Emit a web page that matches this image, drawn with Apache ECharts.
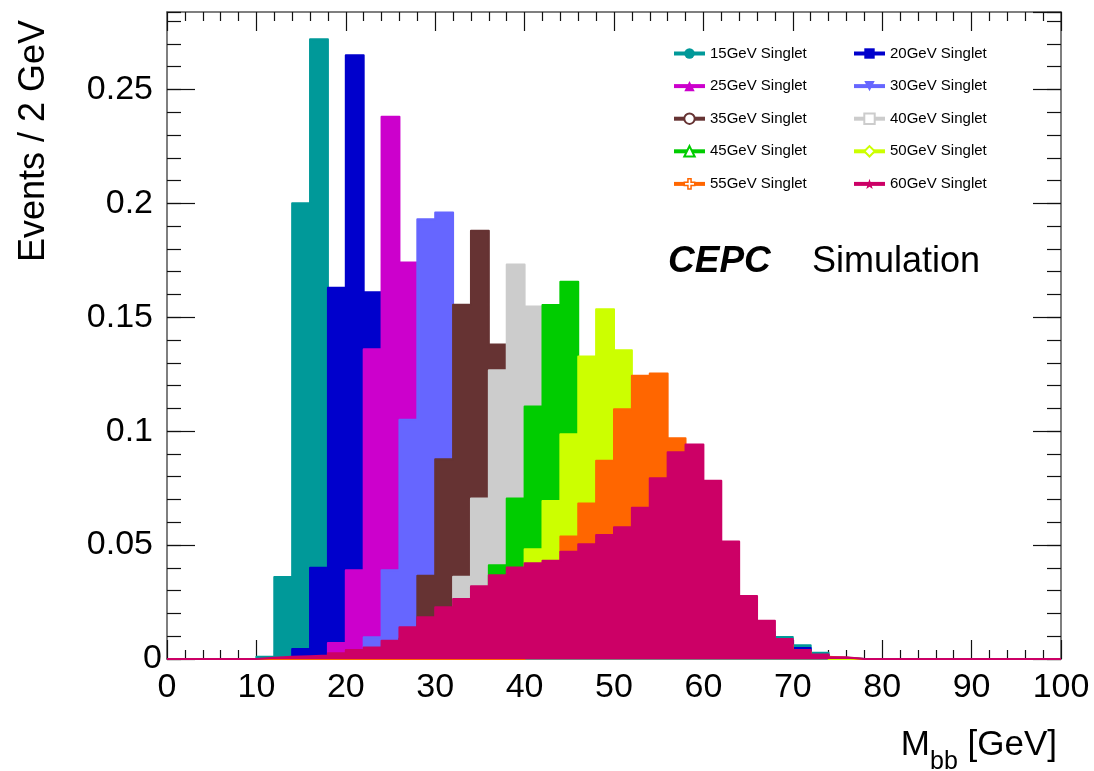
<!DOCTYPE html>
<html><head><meta charset="utf-8">
<script src="https://cdn.jsdelivr.net/npm/echarts@6/dist/echarts.min.js"></script>
<style>html,body{margin:0;padding:0;background:#fff}#c{width:1094px;height:771px}</style>
</head><body><div id="c"></div>
<script>
const FONT = "'Liberation Sans', Arial, Helvetica, sans-serif";
const binWidth = 2;
const nBins = 50;
const binEdges = Array.from({length: nBins}, (_, i) => i * binWidth);

const seriesNames = ['15GeV Singlet','20GeV Singlet','25GeV Singlet','30GeV Singlet','35GeV Singlet',
                     '40GeV Singlet','45GeV Singlet','50GeV Singlet','55GeV Singlet','60GeV Singlet'];
const seriesColors = ['#009999','#0000cc','#cc00cc','#6666ff','#663333',
                      '#cccccc','#00cc00','#ccff00','#ff6600','#cc0066'];
const legendSymbols = ['circle','rect','triangle','path://M0,0 L10,0 L5,9 Z','emptyCircle',
                       'emptyRect','emptyTriangle','emptyDiamond',
                       'path://M3.5,0 L6.5,0 L6.5,3.5 L10,3.5 L10,6.5 L6.5,6.5 L6.5,10 L3.5,10 L3.5,6.5 L0,6.5 L0,3.5 L3.5,3.5 Z',
                       'path://M5,0 L6.2,3.8 L10,3.8 L7,6.2 L8.1,10 L5,7.7 L1.9,10 L3,6.2 L0,3.8 L3.8,3.8 Z'];

const s15 = [0,0,0,0,0, 0.001,0.036,0.200,0.272,0.105, 0.035,0.015,0.008,0.006,0.005, 0.005,0.005,0.006,0.006,0.006, 0.007,0.007,0.007,0.008,0.008, 0.008,0.009,0.009,0.010,0.010, 0.011,0.011,0.012,0.012,0.0097, 0.0060,0.0027,0.0005,0,0, 0,0,0,0,0, 0,0,0,0,0];
const s20 = [0,0,0,0,0, 0,0,0.0044,0.040,0.163, 0.265,0.161,0.065,0.025,0.012, 0.008,0.007,0.007,0.007,0.007, 0.007,0.007,0.007,0.007,0.008, 0.008,0.008,0.008,0.008,0.008, 0.008,0.008,0.008,0.008,0.008, 0.0048,0.0018,0.0004,0,0, 0,0,0,0,0, 0,0,0,0,0];
const s25 = [0,0,0,0,0, 0,0,0,0,0.007, 0.039,0.136,0.238,0.174,0.075, 0.028,0.013,0.008,0.008,0.008, 0.008,0.008,0.008,0.008,0.008, 0.008,0.008,0.008,0.008,0.008, 0.008,0.008,0.008,0.008,0.006, 0.003,0.001,0,0,0, 0,0,0,0,0, 0,0,0,0,0];
const s30 = [0,0,0,0,0, 0,0,0,0,0, 0,0.0095,0.039,0.105,0.193, 0.196,0.100,0.040,0.016,0.009, 0.009,0.009,0.009,0.009,0.009, 0.009,0.009,0.009,0.009,0.009, 0.009,0.009,0.009,0.009,0.006, 0.003,0.001,0,0,0, 0,0,0,0,0, 0,0,0,0,0];
const s35 = [0,0,0,0,0, 0,0,0,0,0, 0,0,0.003,0.009,0.0365, 0.0877,0.1555,0.188,0.138,0.060, 0.022,0.011,0.008,0.008,0.008, 0.008,0.008,0.008,0.008,0.008, 0.008,0.008,0.008,0.008,0.006, 0.003,0.001,0,0,0, 0,0,0,0,0, 0,0,0,0,0];
const s40 = [0,0,0,0,0, 0,0,0,0,0, 0,0,0,0,0.004, 0.012,0.0361,0.0705,0.1268,0.1732, 0.1547,0.070,0.028,0.013,0.008, 0.008,0.008,0.008,0.008,0.008, 0.008,0.008,0.008,0.008,0.006, 0.003,0.001,0,0,0, 0,0,0,0,0, 0,0,0,0,0];
const s45 = [0,0,0,0,0, 0,0,0,0,0, 0,0,0,0,0, 0,0.004,0.012,0.0412,0.0705, 0.1108,0.1554,0.1656,0.080,0.032, 0.014,0.008,0.008,0.008,0.008, 0.008,0.008,0.008,0.008,0.006, 0.003,0.001,0,0,0, 0,0,0,0,0, 0,0,0,0,0];
const s50 = [0,0,0,0,0, 0,0,0,0,0, 0,0,0,0,0, 0,0,0,0.006,0.018, 0.0482,0.0693,0.0987,0.1328,0.1535, 0.1355,0.060,0.024,0.011,0.008, 0.008,0.008,0.008,0.008,0.006, 0.003,0.001,0,0,0, 0,0,0,0,0, 0,0,0,0,0];
const s55 = [0,0,0,0,0, 0,0,0,0,0, 0,0,0,0,0, 0,0,0,0,0, 0.008,0.022,0.0538,0.0683,0.087, 0.1096,0.1243,0.1253,0.0969,0.048, 0.020,0.010,0.008,0.007,0.005, 0.003,0.001,0.0005,0,0, 0,0,0,0,0, 0,0,0,0,0];
const s60 = [0,0,0,0,0, 0.0005,0.001,0.0012,0.0015,0.0025, 0.004,0.0051,0.008,0.0139,0.0183, 0.0227,0.0263,0.0319,0.0368,0.0402, 0.042,0.0431,0.0471,0.0504,0.0544, 0.0578,0.0664,0.0793,0.0907,0.0942, 0.0782,0.0516,0.0276,0.0168,0.0088, 0.0040,0.0020,0.0008,0,0, 0,0,0,0,0, 0,0,0,0,0];
const seriesValues = [s15, s20, s25, s30, s35, s40, s45, s50, s55, s60];

const xTicks = {min: 0, max: 100, interval: 10};
const yTicks = {min: 0, max: 0.284, major: 0.05, minor: 0.01};

function toSteps(vals) {
  const pts = vals.map((v, i) => [binEdges[i], v]);
  pts.push([binEdges[nBins - 1] + binWidth, vals[nBins - 1]]);
  return pts;
}

const chart = echarts.init(document.getElementById('c'), null, {renderer: 'canvas'});

const frameColor = '#555';
const tickColor = '#111';

function xAxisDef(pos, labels) {
  return {
    type: 'value', position: pos, min: xTicks.min, max: xTicks.max, interval: xTicks.interval,
    axisLine: {show: true, onZero: false, lineStyle: {color: frameColor, width: 1.5}},
    axisTick: {show: true, inside: true, length: 19, lineStyle: {color: tickColor, width: 1.2}},
    minorTick: {show: true, splitNumber: 5, length: 9, lineStyle: {color: tickColor, width: 1.2}},
    splitLine: {show: false}, minorSplitLine: {show: false},
    axisLabel: {show: labels, fontSize: 34, color: '#000', margin: 12, fontFamily: FONT}
  };
}
function yAxisDef(pos, interval, len, labels, line) {
  return {
    type: 'value', position: pos, min: yTicks.min, max: yTicks.max, interval: interval,
    axisLine: {show: line, onZero: false, lineStyle: {color: frameColor, width: 1.5}},
    axisTick: {show: true, inside: true, length: len, lineStyle: {color: tickColor, width: 1.2}},
    splitLine: {show: false},
    axisLabel: {show: labels, showMaxLabel: false, fontSize: 34, color: '#000', margin: 14, fontFamily: FONT,
      formatter: v => (v === 0 ? '{z|0}' : String(v)),
      rich: {z: {fontSize: 34, color: '#000', fontFamily: FONT, padding: [0, -9, 0, 0]}}}
  };
}

const legendCols = [[0, 2, 4, 6, 8], [1, 3, 5, 7, 9]];
const legendLeft = [672, 852];
function legendItem(i) {
  if (i === 8) return {name: seriesNames[i], itemStyle: {color: '#fff', borderColor: seriesColors[i], borderWidth: 1.5}};
  return {name: seriesNames[i]};
}

const option = {
  animation: false,
  backgroundColor: '#fff',
  textStyle: {fontFamily: FONT},
  grid: {left: 167, right: 33, top: 12, bottom: 112, containLabel: false, outerBoundsMode: 'none'},
  xAxis: [xAxisDef('bottom', true), xAxisDef('top', false)],
  yAxis: [
    yAxisDef('left', yTicks.major, 28, true, true),
    yAxisDef('left', yTicks.minor, 14, false, false),
    yAxisDef('right', yTicks.major, 28, false, true),
    yAxisDef('right', yTicks.minor, 14, false, false)
  ],
  legend: legendCols.map((col, k) => ({
    orient: 'vertical', left: legendLeft[k], top: 46, padding: 0,
    itemWidth: 31, itemHeight: 13, itemGap: 17.6,
    selectedMode: false, z: 30,
    lineStyle: {width: 4},
    textStyle: {fontSize: 15, color: '#000', fontFamily: FONT},
    data: col.map(legendItem)
  })),
  series: seriesValues.map((vals, i) => ({
    type: 'line', name: seriesNames[i], data: toSteps(vals), step: 'end',
    xAxisIndex: 0, yAxisIndex: 0, z: 2 + i,
    showSymbol: false, symbol: legendSymbols[i], symbolSize: 10,
    lineStyle: {color: seriesColors[i], width: 2, join: 'round'},
    itemStyle: {color: seriesColors[i]},
    areaStyle: {color: seriesColors[i], opacity: 1},
    silent: true, emphasis: {disabled: true}
  })),
  graphic: [
    {type: 'text', x: 34, y: 262, rotation: Math.PI / 2, z: 30,
     style: {text: 'Events / 2 GeV', fontSize: 36, fontFamily: FONT, fill: '#000', align: 'left', verticalAlign: 'middle'}},
    {type: 'text', x: 668, y: 262, z: 30,
     style: {text: 'CEPC', fontSize: 37, fontWeight: 'bold', fontStyle: 'italic', fontFamily: FONT, fill: '#000', align: 'left', verticalAlign: 'middle'}},
    {type: 'text', x: 812, y: 262, z: 30,
     style: {text: 'Simulation', fontSize: 36, fontFamily: FONT, fill: '#000', align: 'left', verticalAlign: 'middle'}},
    {type: 'text', x: 1057, y: 728, z: 30,
     style: {text: '{m|M}{s|bb}{m| [GeV]}', align: 'right', verticalAlign: 'top',
       rich: {
         m: {fontSize: 35, lineHeight: 35, verticalAlign: 'top', fontFamily: FONT, fill: '#000'},
         s: {fontSize: 25, lineHeight: 25, padding: [22, 0, 0, 0], verticalAlign: 'top', fontFamily: FONT, fill: '#000'}
       }}}
  ]
};
chart.setOption(option);
</script></body></html>
